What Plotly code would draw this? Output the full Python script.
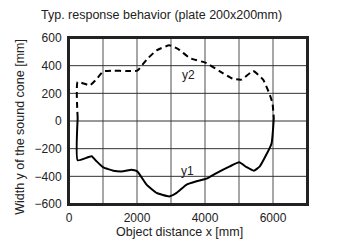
import plotly.graph_objects as go

y2_x = [255, 255, 617, 813, 1009, 1303, 1694, 2008, 2282, 2576, 2948, 3213, 3555, 4045, 4437, 4809, 5073, 5416, 5710, 5906, 5984, 6023]
y2_y = [22, 282, 258, 304, 359, 364, 361, 364, 443, 511, 547, 520, 455, 419, 359, 306, 299, 361, 299, 190, 130, 22]

y1_x = [255, 255, 666, 813, 1009, 1303, 1596, 1841, 2008, 2282, 2576, 2948, 3164, 3457, 3751, 4045, 4339, 4731, 5005, 5220, 5436, 5612, 5955, 6023]
y1_y = [22, -284, -255, -292, -335, -359, -364, -352, -364, -460, -520, -545, -520, -460, -436, -417, -376, -328, -299, -333, -359, -328, -164, 22]

x_ticks = [0, 1000, 2000, 3000, 4000, 5000, 6000, 7000]
x_tick_labels = ["0", "", "2000", "", "4000", "", "6000", ""]
y_ticks = [-600, -400, -200, 0, 200, 400, 600]

labels = ["y2", "y1"]
label_x = [3506, 3477]
label_y = [335, -364]

FONT = "Liberation Sans Narrow, Arial Narrow, Liberation Sans, Arial, sans-serif"

fig = go.Figure()

# grid lines and frame as shapes, placed on the axis scales
for xv in x_ticks[1:-1]:
    fig.add_shape(type="line", xref="x", yref="paper", x0=xv, x1=xv, y0=0, y1=1,
                  line=dict(color="#8a8a8a", width=1.5), layer="below")
for yv in y_ticks[1:-1]:
    fig.add_shape(type="line", xref="paper", yref="y", x0=0, x1=1, y0=yv, y1=yv,
                  line=dict(color="#333333", width=1), layer="below")
fig.add_shape(type="rect", xref="paper", yref="paper", x0=0, x1=1, y0=0, y1=1,
              line=dict(color="#222222", width=2), layer="above")

fig.add_trace(go.Scatter(x=y2_x, y=y2_y, mode="lines",
                         line=dict(color="black", width=2, dash="6px,4px", shape="spline", smoothing=0.4)))
fig.add_trace(go.Scatter(x=y1_x, y=y1_y, mode="lines",
                         line=dict(color="black", width=2, shape="spline", smoothing=0.4)))

for t, xx, yy in zip(labels, label_x, label_y):
    fig.add_annotation(x=xx, y=yy, text=t, showarrow=False,
                       font=dict(size=12, color="#222", family=FONT))

# axis titles as annotations (positioned like the reference)
fig.add_annotation(text="Object distance x [mm]", xref="paper", yref="paper",
                   x=0.466, y=-28/166, xanchor="center", yanchor="middle", showarrow=False,
                   font=dict(size=12.5, family=FONT, color="#222"))
fig.add_annotation(text="Width y of the sound cone [mm]", xref="paper", yref="paper",
                   x=-49/238, y=0.465, xanchor="center", yanchor="middle", showarrow=False,
                   textangle=-90, font=dict(size=12.5, family=FONT, color="#222"))

# page has an 8px body margin; figure sized so it ends at the window edge
fig.update_layout(
    template="none",
    width=329, height=235,
    margin=dict(l=61, r=30, t=30, b=39, autoexpand=False),
    paper_bgcolor="white", plot_bgcolor="white",
    showlegend=False,
    font=dict(family=FONT, size=12, color="#222"),
    title=dict(text="Typ. response behavior (plate 200x200mm)", x=33/329, xanchor="left",
               y=1 - 7/235, yanchor="middle", font=dict(size=12.5, family=FONT, color="#222")),
)
fig.update_xaxes(range=[0, 7000], tickmode="array", tickvals=x_ticks, ticktext=x_tick_labels,
                 showgrid=False, showline=True, linecolor="#222222", linewidth=2, mirror=True,
                 ticks="", ticklen=0, zeroline=False, automargin=False,
                 ticklabelstandoff=2,
                 tickfont=dict(size=12, family=FONT))
fig.update_yaxes(range=[-600, 600], tickmode="array", tickvals=y_ticks,
                 showgrid=False, showline=True, linecolor="#222222", linewidth=2, mirror=True,
                 ticks="", ticklen=0, zeroline=False, automargin=False,
                 ticklabelstandoff=3,
                 tickfont=dict(size=12, family=FONT))

fig.write_html("out.html")
